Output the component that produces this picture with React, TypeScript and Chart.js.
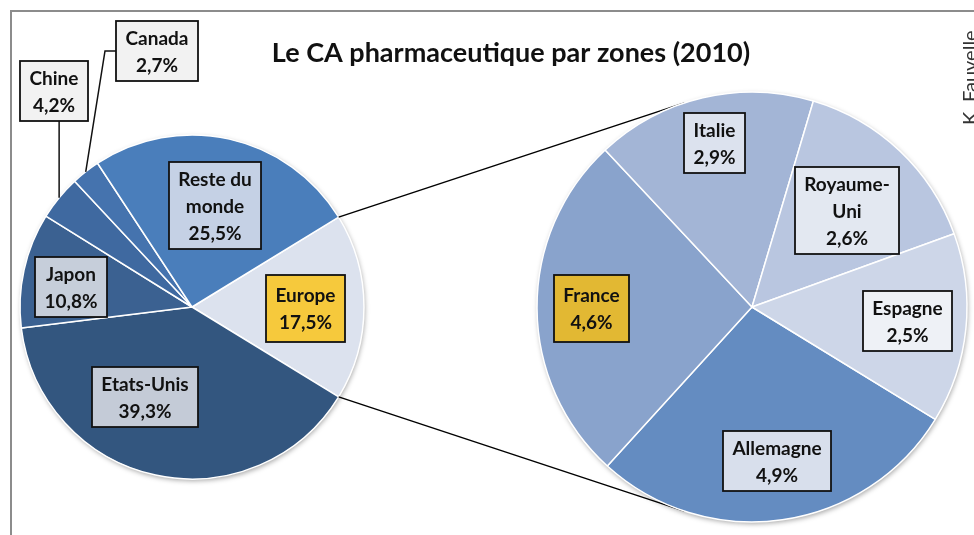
import React, { useEffect, useRef } from 'react';
import { Chart, registerables } from 'chart.js';

Chart.register(...registerables);

// ---------------- data ----------------
const chartTitle = 'Le CA pharmaceutique par zones (2010)';
const author = 'K. Fauvelle';
const zones = ['Europe', 'Etats-Unis', 'Japon', 'Chine', 'Canada', 'Reste du monde'];
const zoneShares = [17.5, 39.3, 10.8, 4.2, 2.7, 25.5];
const europeCountries = ['Allemagne', 'France', 'Italie', 'Royaume-Uni', 'Espagne'];
const europeShares = [4.9, 4.6, 2.9, 2.6, 2.5];

// ---------------- styles ----------------
const zoneColors = ['#DCE2EE', '#33567F', '#3B6191', '#3F69A0', '#4573AE', '#4A7EBB'];
const zoneLabelFills = ['#F6C93C', '#C4CBD7', '#C6CEDA', '#F2F2F2', '#F2F2F2', '#C5D1E5'];
const europeColors = ['#648CC1', '#89A3CC', '#A3B5D6', '#B9C6E0', '#CDD6E8'];
const europeLabelFills = ['#D8DFEC', '#E2B833', '#DCE2EE', '#E3E8F1', '#EEF1F6'];

const labelLines: Record<string, string[]> = {
  'Reste du monde': ['Reste du', 'monde'],
  'Royaume-Uni': ['Royaume-', 'Uni'],
};

type Place = { dx: number; dy: number; big?: boolean; leader?: 'vertical' | 'elbow' };
// label box centres, as offsets from the pie centre
const zonePlaces: Place[] = [
  { dx: 113.5, dy: 1.5, big: true },
  { dx: -47, dy: 90 },
  { dx: -121.5, dy: -20 },
  { dx: -138.5, dy: -216, leader: 'vertical' },
  { dx: -35, dy: -256, leader: 'elbow' },
  { dx: 22.5, dy: -101.5 },
];
const europePlaces: Place[] = [
  { dx: 25, dy: 154 },
  { dx: -160.5, dy: 1.5, big: true },
  { dx: -37.5, dy: -164 },
  { dx: 95, dy: -97 },
  { dx: 155, dy: 14 },
];

const W = 974;
const H = 535;
const FONT = 'Lato, "Open Sans", sans-serif';
const LABEL_SIZE = 19;
const LINE_H = 27;
const PAD_X = 9.5;

const pct = (v: number) => v.toFixed(1).replace('.', ',') + '%';

function arcProps(el: any) {
  return el.getProps(['x', 'y', 'startAngle', 'endAngle', 'outerRadius'], true);
}

function drawShadow(chart: any) {
  const meta = chart.getDatasetMeta(0);
  if (!meta.data.length) return;
  const p = arcProps(meta.data[0]);
  const ctx = chart.ctx;
  ctx.save();
  ctx.shadowColor = 'rgba(0,0,0,0.35)';
  ctx.shadowBlur = 5;
  ctx.shadowOffsetX = 1;
  ctx.shadowOffsetY = 2;
  ctx.fillStyle = '#ffffff';
  ctx.beginPath();
  ctx.arc(p.x, p.y, p.outerRadius, 0, Math.PI * 2);
  ctx.fill();
  ctx.restore();
}

function drawLabels(chart: any, names: string[], values: number[], places: Place[], fills: string[]) {
  const ctx = chart.ctx;
  const meta = chart.getDatasetMeta(0);
  ctx.save();
  ctx.font = `bold ${LABEL_SIZE}px ${FONT}`;
  ctx.lineWidth = 1.8;
  ctx.strokeStyle = '#111111';
  meta.data.forEach((el: any, i: number) => {
    const p = arcProps(el);
    const pl = places[i];
    const lines = [...(labelLines[names[i]] ?? [names[i]]), pct(values[i])];
    const tw = Math.max(...lines.map((l) => ctx.measureText(l).width));
    const w = Math.round(tw + 2 * PAD_X);
    const h = (lines.length - 1) * LINE_H + 33 + (pl.big ? 7 : 0);
    const cx = p.x + pl.dx;
    const cy = p.y + pl.dy;
    const left = Math.round(cx - w / 2);
    const top = Math.round(cy - h / 2);
    if (pl.leader) {
      const mid = (p.startAngle + p.endAngle) / 2;
      const ex = p.x + p.outerRadius * Math.cos(mid);
      const ey = p.y + p.outerRadius * Math.sin(mid);
      ctx.beginPath();
      ctx.lineWidth = 1.5;
      if (pl.leader === 'vertical') {
        ctx.moveTo(ex, ey);
        ctx.lineTo(ex, top + h);
      } else {
        ctx.moveTo(ex, ey);
        ctx.lineTo(left - 11, cy);
        ctx.lineTo(left, cy);
      }
      ctx.stroke();
      ctx.lineWidth = 1.8;
    }
    ctx.fillStyle = fills[i];
    ctx.fillRect(left, top, w, h);
    ctx.strokeRect(left, top, w, h);
    ctx.fillStyle = '#111111';
    ctx.textAlign = 'center';
    ctx.textBaseline = 'middle';
    const y0 = top + h / 2 - ((lines.length - 1) * LINE_H) / 2 + 1;
    lines.forEach((l, k) => ctx.fillText(l, left + w / 2, y0 + k * LINE_H));
  });
  ctx.restore();
}

export default function App() {
  const refA = useRef<HTMLCanvasElement>(null);
  const refB = useRef<HTMLCanvasElement>(null);

  useEffect(() => {
    if (!refA.current || !refB.current) return;
    const totalZones = zoneShares.reduce((a, b) => a + b, 0);
    const europeHalf = ((zoneShares[0] / totalZones) * 360) / 2;

    const chartA = new Chart(refA.current, {
      type: 'pie',
      data: {
        labels: zones,
        datasets: [
          {
            data: zoneShares,
            backgroundColor: zoneColors,
            borderColor: '#ffffff',
            borderWidth: 1.5,
            radius: 172,
          } as any,
        ],
      },
      options: {
        responsive: false,
        animation: false,
        events: [],
        rotation: 90 - europeHalf,
        layout: { padding: { left: 0, right: 590, top: 79, bottom: 0 } },
        plugins: { legend: { display: false }, tooltip: { enabled: false } },
      } as any,
      plugins: [
        {
          id: 'background',
          beforeDraw(chart: any) {
            const ctx = chart.ctx;
            ctx.save();
            ctx.fillStyle = '#ffffff';
            ctx.fillRect(0, 0, W, H);
            ctx.strokeStyle = '#8C8C8C';
            ctx.lineWidth = 2;
            ctx.strokeRect(11, 11, W + 20, H + 20);
            ctx.fillStyle = '#111111';
            ctx.font = `bold 27px ${FONT}`;
            ctx.textAlign = 'center';
            ctx.textBaseline = 'alphabetic';
            ctx.fillText(chartTitle, 511, 62);
            ctx.translate(977, 125);
            ctx.rotate(-Math.PI / 2);
            ctx.font = `20px ${FONT}`;
            ctx.fillStyle = '#333333';
            ctx.textAlign = 'left';
            ctx.fillText(author, 0, 0);
            ctx.restore();
          },
          beforeDatasetsDraw(chart: any) {
            drawShadow(chart);
          },
          afterDatasetsDraw(chart: any) {
            drawLabels(chart, zones, zoneShares, zonePlaces, zoneLabelFills);
          },
        },
      ],
    });

    const chartB = new Chart(refB.current, {
      type: 'pie',
      data: {
        labels: europeCountries,
        datasets: [
          {
            data: europeShares,
            backgroundColor: europeColors,
            borderColor: '#ffffff',
            borderWidth: 1.5,
            radius: 215,
          } as any,
        ],
      },
      options: {
        responsive: false,
        animation: false,
        events: [],
        rotation: 90 + europeHalf,
        layout: { padding: { left: 530, right: 0, top: 79, bottom: 0 } },
        plugins: { legend: { display: false }, tooltip: { enabled: false } },
      } as any,
      plugins: [
        {
          id: 'connectors',
          beforeDatasetsDraw(chart: any) {
            const ctx = chart.ctx;
            const metaB = chart.getDatasetMeta(0);
            const metaA = chartA.getDatasetMeta(0);
            if (!metaB.data.length || !metaA.data.length) return;
            const b = arcProps(metaB.data[0]);
            const e = arcProps(metaA.data[0]);
            ctx.save();
            ctx.strokeStyle = '#000000';
            ctx.lineWidth = 1.5;
            [e.startAngle, e.endAngle].forEach((ang: number, k: number) => {
              const px = e.x + e.outerRadius * Math.cos(ang);
              const py = e.y + e.outerRadius * Math.sin(ang);
              const d = Math.hypot(px - b.x, py - b.y);
              const phi = Math.atan2(py - b.y, px - b.x);
              const alpha = Math.acos(b.outerRadius / d);
              const t = k === 0 ? phi + alpha : phi - alpha;
              ctx.beginPath();
              ctx.moveTo(px, py);
              ctx.lineTo(b.x + b.outerRadius * Math.cos(t), b.y + b.outerRadius * Math.sin(t));
              ctx.stroke();
            });
            ctx.restore();
            drawShadow(chart);
          },
          afterDatasetsDraw(chart: any) {
            drawLabels(chart, europeCountries, europeShares, europePlaces, europeLabelFills);
          },
        },
      ],
    });

    return () => {
      chartB.destroy();
      chartA.destroy();
    };
  }, []);

  return (
    <div style={{ position: 'fixed', left: 0, top: 0, width: W, height: H, background: '#fff', overflow: 'hidden' }}>
      <canvas ref={refA} width={W} height={H} style={{ position: 'absolute', left: 0, top: 0 }} />
      <canvas ref={refB} width={W} height={H} style={{ position: 'absolute', left: 0, top: 0 }} />
    </div>
  );
}
